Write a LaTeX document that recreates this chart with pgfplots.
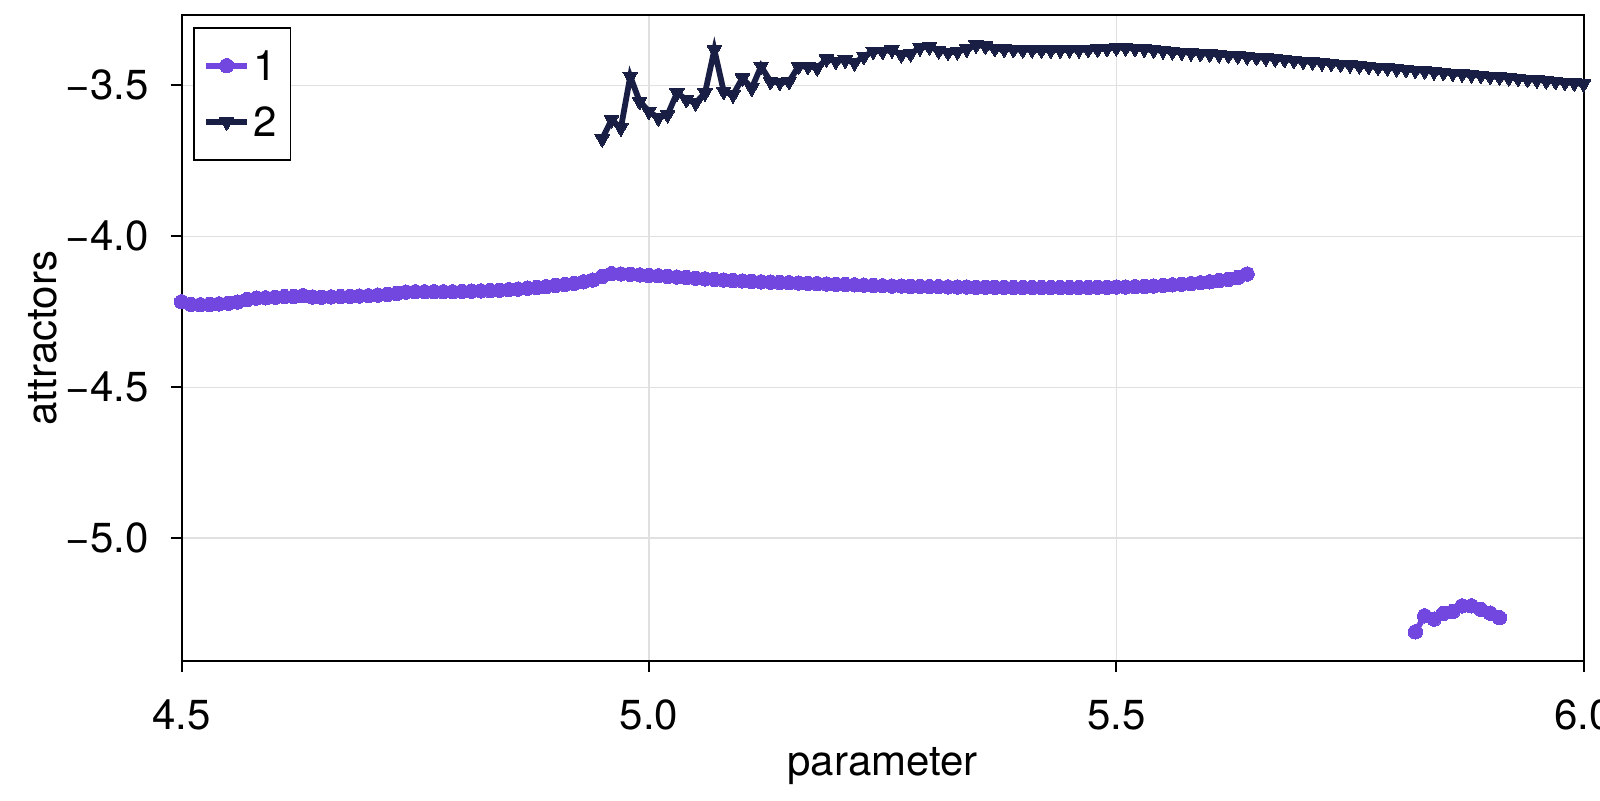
\documentclass[border=0pt]{standalone}
\usepackage{fontspec}
\setmainfont{TeX Gyre Heros}
\usepackage{pgfplots}
\pgfplotsset{compat=1.18}
\definecolor{cpurple}{RGB}{114,71,223}
\definecolor{cnavy}{RGB}{25,30,68}
\begin{document}
\begin{tikzpicture}
\begin{axis}[
  at={(0,0)}, anchor=south west,
  scale only axis, width=701bp, height=323bp,
  xmin=4.5, xmax=6.0, ymin=-5.408, ymax=-3.267,
  xtick={4.5,5,5.5,6}, xticklabels={4.5,5.0,5.5,6.0},
  ytick={-5,-4.5,-4,-3.5}, yticklabels={−5.0,−4.5,−4.0,−3.5},
  tick align=outside, major tick length=5.5bp,
  tick style={black, line width=1bp},
  xtick pos=bottom, ytick pos=left,
  axis line style={line width=1bp},
  grid=major, major grid style={black!12, line width=0.6bp},
  font=\fontsize{21bp}{25bp}\selectfont,
  xticklabel style={anchor=north, inner sep=0pt, yshift=-13.8bp, font=\fontsize{21bp}{25bp}\selectfont},
  yticklabel style={anchor=east, inner sep=0pt, xshift=-10.8bp, font=\fontsize{21bp}{25bp}\selectfont},
  xlabel={parameter}, ylabel={attractors},
  every axis x label/.style={at={(axis description cs:0.5,-0.1618)}, anchor=center, font=\fontsize{21bp}{25bp}\selectfont},
  every axis y label/.style={at={(axis description cs:-0.099,0.5)}, rotate=90, anchor=center, font=\fontsize{21bp}{25bp}\selectfont},
  legend style={at={(0,1)}, anchor=north west, xshift=5.85bp, yshift=-6bp, draw=black, line width=0.9bp, fill=white,
    font=\fontsize{21bp}{25bp}\selectfont, inner xsep=4.7bp, inner ysep=9.4bp, row sep=9.3bp,
    nodes={inner sep=2bp, text depth=0pt}},
  legend cell align=left,
  legend image code/.code={\draw[mark repeat=2,mark phase=2] plot coordinates {(0bp,0bp) (10.1bp,0bp) (20.2bp,0bp)};},
]
\addplot[color=cpurple, line width=2.9bp, mark=*, mark size=3.6bp, mark options={fill=cpurple, draw=cpurple, line width=0pt}] table {
x y
4.50 -4.217
4.51 -4.226
4.52 -4.227
4.53 -4.226
4.54 -4.224
4.55 -4.222
4.56 -4.218
4.57 -4.210
4.58 -4.205
4.59 -4.204
4.60 -4.202
4.61 -4.200
4.62 -4.200
4.63 -4.197
4.64 -4.201
4.65 -4.202
4.66 -4.201
4.67 -4.200
4.68 -4.199
4.69 -4.198
4.70 -4.197
4.71 -4.195
4.72 -4.193
4.73 -4.190
4.74 -4.185
4.75 -4.184
4.76 -4.184
4.77 -4.184
4.78 -4.184
4.79 -4.184
4.80 -4.183
4.81 -4.182
4.82 -4.181
4.83 -4.180
4.84 -4.179
4.85 -4.177
4.86 -4.175
4.87 -4.172
4.88 -4.170
4.89 -4.167
4.90 -4.163
4.91 -4.160
4.92 -4.156
4.93 -4.151
4.94 -4.145
4.95 -4.133
4.96 -4.124
4.97 -4.125
4.98 -4.126
4.99 -4.128
5.00 -4.130
5.01 -4.131
5.02 -4.133
5.03 -4.135
5.04 -4.137
5.05 -4.139
5.06 -4.141
5.07 -4.143
5.08 -4.145
5.09 -4.147
5.10 -4.148
5.11 -4.150
5.12 -4.151
5.13 -4.152
5.14 -4.153
5.15 -4.154
5.16 -4.155
5.17 -4.156
5.18 -4.157
5.19 -4.158
5.20 -4.159
5.21 -4.160
5.22 -4.161
5.23 -4.162
5.24 -4.163
5.25 -4.164
5.26 -4.165
5.27 -4.165
5.28 -4.166
5.29 -4.166
5.30 -4.167
5.31 -4.167
5.32 -4.168
5.33 -4.168
5.34 -4.168
5.35 -4.169
5.36 -4.169
5.37 -4.169
5.38 -4.169
5.39 -4.170
5.40 -4.170
5.41 -4.170
5.42 -4.170
5.43 -4.170
5.44 -4.170
5.45 -4.170
5.46 -4.170
5.47 -4.170
5.48 -4.169
5.49 -4.169
5.50 -4.168
5.51 -4.168
5.52 -4.167
5.53 -4.166
5.54 -4.165
5.55 -4.163
5.56 -4.161
5.57 -4.159
5.58 -4.157
5.59 -4.154
5.60 -4.151
5.61 -4.147
5.62 -4.143
5.63 -4.137
5.64 -4.125
};
\addlegendentry{1}
\addplot[color=cnavy, line width=2.9bp, mark=triangle*, mark size=4.2bp, mark options={rotate=180, fill=cnavy, draw=cnavy, line width=0pt}] table {
x y
4.95 -3.677
4.96 -3.614
4.97 -3.641
4.98 -3.470
4.99 -3.553
5.00 -3.586
5.01 -3.608
5.02 -3.597
5.03 -3.525
5.04 -3.547
5.05 -3.558
5.06 -3.525
5.07 -3.382
5.08 -3.520
5.09 -3.531
5.10 -3.476
5.11 -3.509
5.12 -3.437
5.13 -3.487
5.14 -3.490
5.15 -3.487
5.16 -3.437
5.17 -3.437
5.18 -3.442
5.19 -3.413
5.20 -3.420
5.21 -3.416
5.22 -3.425
5.23 -3.404
5.24 -3.387
5.25 -3.387
5.26 -3.382
5.27 -3.398
5.28 -3.395
5.29 -3.375
5.30 -3.372
5.31 -3.385
5.32 -3.390
5.33 -3.388
5.34 -3.380
5.35 -3.366
5.36 -3.370
5.37 -3.378
5.38 -3.380
5.39 -3.381
5.40 -3.382
5.41 -3.382
5.42 -3.383
5.43 -3.383
5.44 -3.383
5.45 -3.382
5.46 -3.382
5.47 -3.381
5.48 -3.380
5.49 -3.378
5.50 -3.375
5.51 -3.376
5.52 -3.378
5.53 -3.380
5.54 -3.383
5.55 -3.385
5.56 -3.388
5.57 -3.390
5.58 -3.392
5.59 -3.394
5.60 -3.396
5.61 -3.398
5.62 -3.400
5.63 -3.402
5.64 -3.405
5.65 -3.407
5.66 -3.409
5.67 -3.412
5.68 -3.414
5.69 -3.417
5.70 -3.420
5.71 -3.422
5.72 -3.425
5.73 -3.427
5.74 -3.430
5.75 -3.432
5.76 -3.435
5.77 -3.437
5.78 -3.440
5.79 -3.442
5.80 -3.445
5.81 -3.447
5.82 -3.450
5.83 -3.452
5.84 -3.455
5.85 -3.457
5.86 -3.460
5.87 -3.462
5.88 -3.465
5.89 -3.467
5.90 -3.470
5.91 -3.472
5.92 -3.475
5.93 -3.477
5.94 -3.480
5.95 -3.482
5.96 -3.485
5.97 -3.487
5.98 -3.490
5.99 -3.492
6.00 -3.495
};
\addlegendentry{2}
\addplot[forget plot, color=cpurple, line width=2.9bp, mark=*, mark size=3.6bp, mark options={fill=cpurple, draw=cpurple, line width=0pt}] table {
x y
5.82 -5.311
5.83 -5.258
5.84 -5.269
5.85 -5.250
5.86 -5.244
5.87 -5.225
5.88 -5.225
5.89 -5.236
5.90 -5.249
5.91 -5.264
};
\end{axis}
\pgfresetboundingbox
\useasboundingbox (-90.8bp,-69.5bp) rectangle (709.2bp,330.55bp);
\end{tikzpicture}
\end{document}
